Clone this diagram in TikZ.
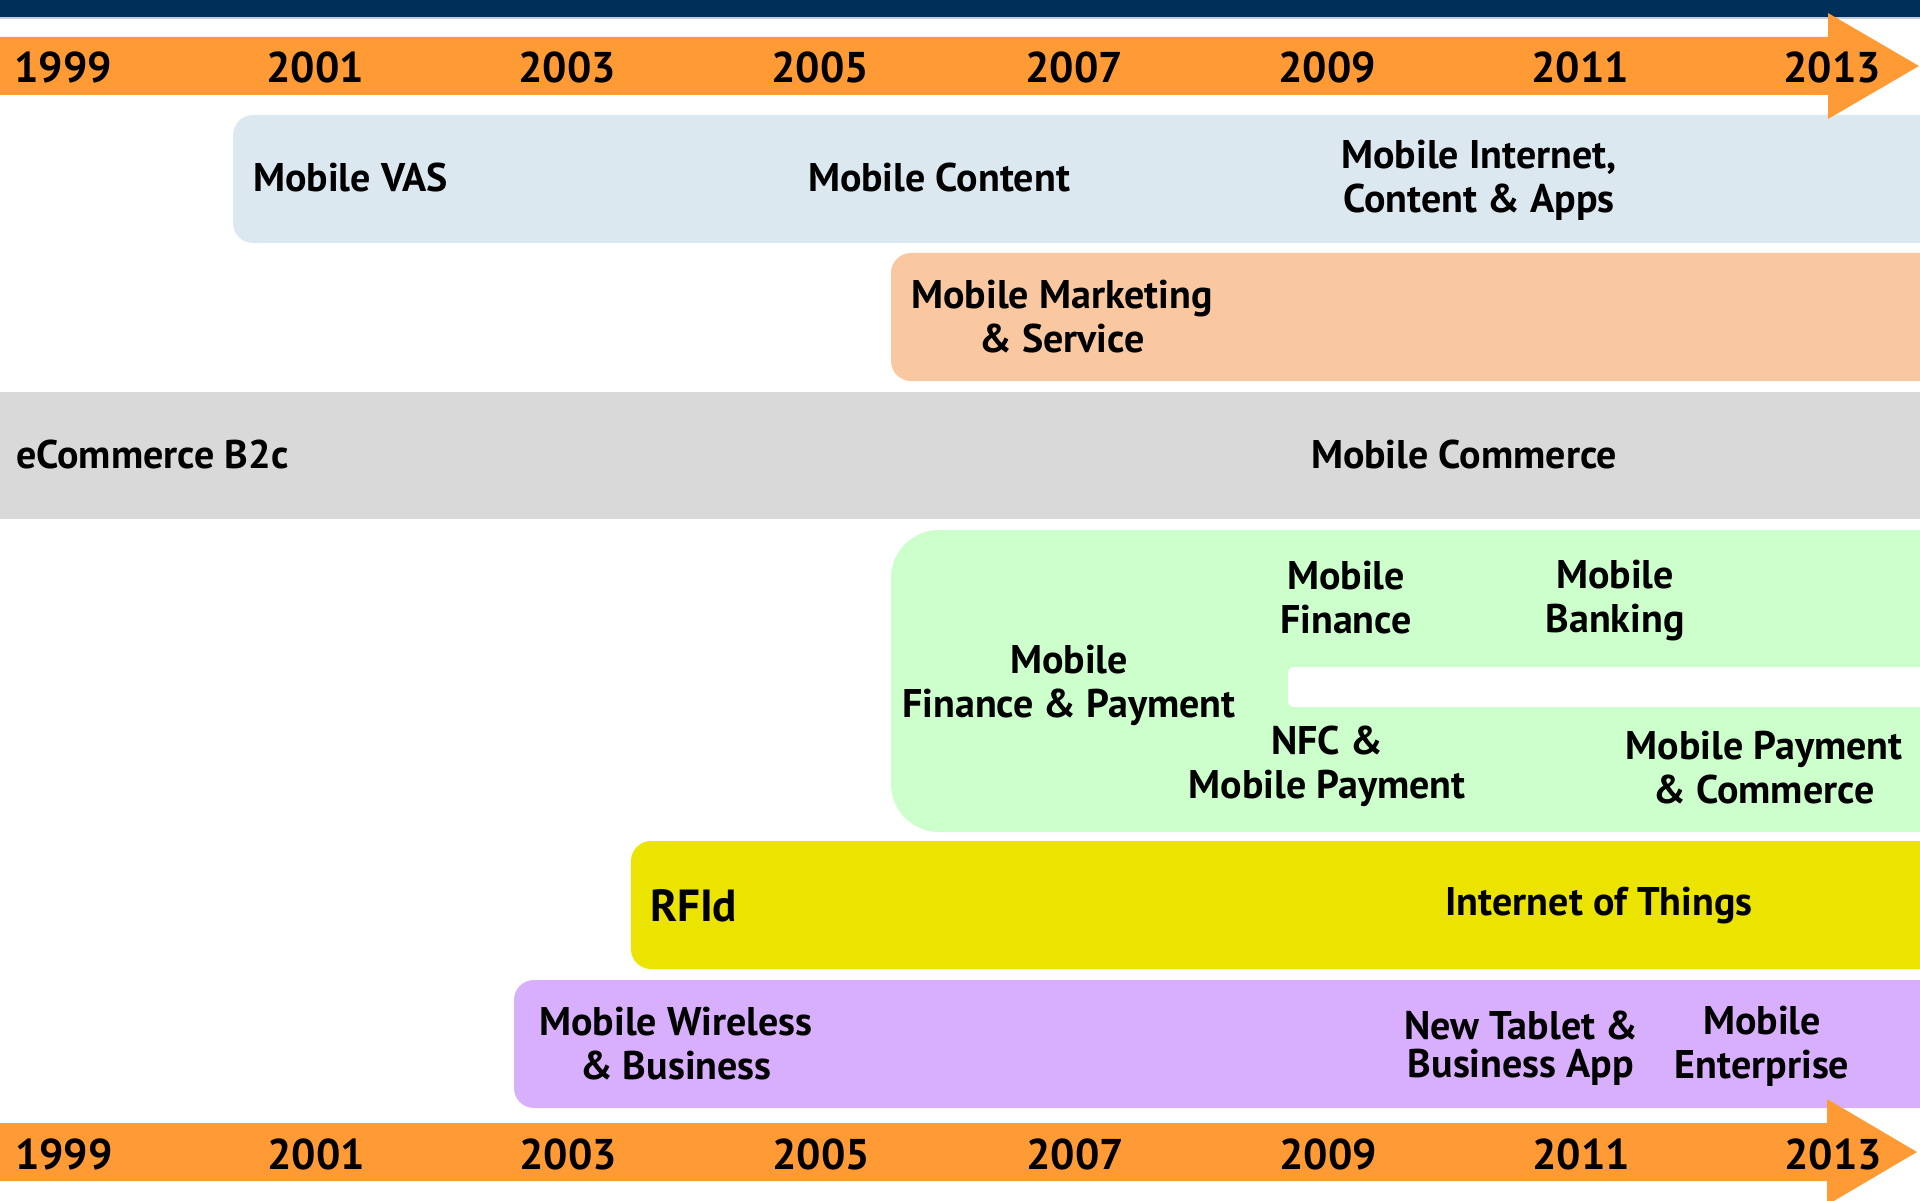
\documentclass[tikz,border=0pt]{standalone}
\usepackage{fontspec}
\setmainfont{PT Sans}
\definecolor{navy}{HTML}{002F5A}
\definecolor{navyline}{HTML}{C4CEDA}
\definecolor{tlorange}{HTML}{FF9A35}
\definecolor{vasblue}{HTML}{DCE8F0}
\definecolor{peach}{HTML}{F9C8A0}
\definecolor{commgray}{HTML}{D9D9D9}
\definecolor{fingreen}{HTML}{CCFFCC}
\definecolor{iotyellow}{HTML}{EBE400}
\definecolor{bizpurple}{HTML}{D8AFFC}
\newcommand\twol[3][44]{\vtop{\baselineskip=#1pt\halign{\hfil##\hfil\cr#2\cr#3\cr}}}
\begin{document}
\begin{tikzpicture}[x=1pt,y=-1pt,
  lbl/.style={font=\fontsize{40}{44}\selectfont\bfseries, inner sep=0pt, anchor=base},
  lbll/.style={lbl, anchor=base west},
  yr/.style={font=\fontsize{43}{50}\selectfont\bfseries, inner sep=0pt, anchor=base},
]
\useasboundingbox (0,0) rectangle (1920,1201);
\clip (0,0) rectangle (1920,1201);
% header bar
\fill[navy] (0,0) rectangle (1920,17);
\fill[navyline] (0,17) rectangle (1920,19);
% bands
\fill[vasblue, rounded corners=20pt] (233,115) rectangle (1960,243);
\fill[peach, rounded corners=20pt] (891,253) rectangle (1960,381);
\fill[commgray] (0,392) rectangle (1920,519);
\fill[fingreen, rounded corners=48pt] (891,530) rectangle (1990,832);
\fill[white, rounded corners=6pt] (1288,667) rectangle (1960,707);
\fill[iotyellow, rounded corners=20pt] (631,841) rectangle (1960,969);
\fill[bizpurple, rounded corners=20pt] (514,980) rectangle (1960,1108);
% timeline arrows
\fill[tlorange] (0,37) -- (1828,37) -- (1828,13) -- (1919,66) -- (1828,119) -- (1828,95) -- (0,95) -- cycle;
\fill[tlorange] (0,1123) -- (1827,1123) -- (1827,1099) -- (1917,1152) -- (1827,1205) -- (1827,1181) -- (0,1181) -- cycle;
% years
\foreach \yv/\xv in {1999/63,2001/315,2003/567,2005/820,2007/1074,2009/1327,2011/1580,2013/1832}{
  \node[yr] (top\yv) at (\xv,83) {\yv};
  \node[yr] (bot\yv) at (\xv+1,1169) {\yv};
}
% labels
\node[lbll] (vas) at (253,192) {Mobile VAS};
\node[lbl] (content) at (939,192) {Mobile Content};
\node[lbl] (internet) at (1479,169) {\twol{Mobile Internet,}{Content \& Apps}};
\node[lbl] (marketing) at (1062,308) {\twol{Mobile Marketing}{\& Service}};
\node[lbll] (ecom) at (16,468) {eCommerce B2c};
\node[lbl] (mcom) at (1464,468) {Mobile Commerce};
\node[lbl] (finpay) at (1069,673) {\twol{Mobile}{Finance \& Payment}};
\node[lbl] (finance) at (1346,589) {\twol{Mobile}{Finance}};
\node[lbl] (banking) at (1615,588) {\twol{Mobile}{Banking}};
\node[lbl] (nfc) at (1327,754) {\twol{NFC \&}{Mobile Payment}};
\node[lbl] (paycom) at (1764,759) {\twol{Mobile Payment}{\& Commerce}};
\node[lbll, font=\fontsize{45}{50}\selectfont\bfseries] (rfid) at (650,921) {RFId};
\node[lbl] (iot) at (1599,915) {Internet of Things};
\node[lbl] (wireless) at (676,1035) {\twol{Mobile Wireless}{\& Business}};
\node[lbl] (tablet) at (1521,1039) {\twol[38]{New Tablet \&}{Business App}};
\node[lbl] (enterprise) at (1762,1034) {\twol{Mobile}{Enterprise}};
\end{tikzpicture}
\end{document}
